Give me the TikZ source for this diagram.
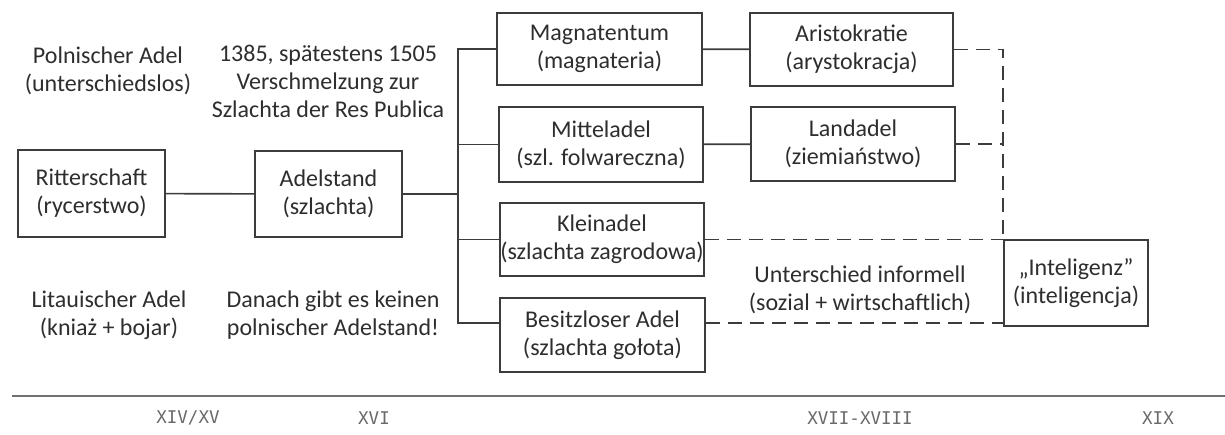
\documentclass[tikz,border=0pt]{standalone}
\usepackage{fontspec}
\setmainfont{Carlito}
\newfontfamily\tlfamily{DejaVu Sans Mono}
\definecolor{linec}{HTML}{3C3C3C}
\definecolor{textc}{HTML}{2E2E2E}
\definecolor{tlc}{HTML}{707070}
\definecolor{tltext}{HTML}{6A6A6A}
\newcommand{\fs}{\fontsize{24}{28}\selectfont}
\newcommand{\tlf}{\tlfamily\fontsize{17.5}{20}\selectfont}
\begin{document}
\begin{tikzpicture}[x=1pt,y=-1pt,
  box/.style={draw=linec, line width=1.6pt, inner sep=0pt, align=center, text=textc, font=\fs},
  lbl/.style={align=center, text=textc, font=\fs, inner sep=0pt},
  conn/.style={draw=linec, line width=1.6pt},
  dsh/.style={draw=linec, line width=1.6pt, dash pattern=on 14pt off 8pt},
  tl/.style={text=tltext, font=\tlf, inner sep=0pt}]
\fill[white] (0,0) rectangle (1225,434);
\useasboundingbox (0,0) rectangle (1225,434);
% boxes
\node[box, minimum width=147pt, minimum height=87pt] (ritter) at (91.5,193.5) {Ritterschaft\\(rycerstwo)};
\node[box, minimum width=147pt, minimum height=86pt] (adel) at (328.5,194) {Adelstand\\(szlachta)};
\node[box, minimum width=205pt, minimum height=72pt] (magn) at (599.5,49) {Magnatentum\\(magnateria)};
\node[box, minimum width=203pt, minimum height=73pt] (arist) at (851.5,49.5) {Aristokratie\\(arystokracja)};
\node[box, minimum width=204pt, minimum height=75pt] (mittel) at (601,144.5) {Mitteladel\\(szl. folwareczna)};
\node[box, minimum width=204pt, minimum height=74pt] (land) at (853,144) {Landadel\\(ziemiaństwo)};
\node[box, minimum width=204pt, minimum height=73pt] (klein) at (602,239.5) {Kleinadel\\(szlachta zagrodowa)};
\node[box, minimum width=205pt, minimum height=74pt] (besitz) at (602.5,335) {Besitzloser Adel\\(szlachta gołota)};
\node[box, minimum width=144pt, minimum height=86pt] (intel) at (1076,283) {„Inteligenz”\\(inteligencja)};
% free labels
\node[lbl] (pol) at (108,71) {Polnischer Adel\\(unterschiedslos)};
\node[lbl] (y1385) at (328,81.5) {1385, spätestens 1505\\Verschmelzung zur\\Szlachta der Res Publica};
\node[lbl] (lit) at (109,315) {Litauischer Adel\\(kniaż + bojar)};
\node[lbl] (danach) at (333,315) {Danach gibt es keinen\\polnischer Adelstand!};
\node[lbl] (unter) at (860,289.5) {Unterschied informell\\(sozial + wirtschaftlich)};
% connectors
\coordinate (vtop) at (458,49);
\coordinate (vbot) at (458,323);
\draw[conn] (ritter) -- (adel);
\draw[conn] (adel.east) -- (adel.east -| vtop);
\draw[conn] (magn.west) -- (vtop) -- (vbot) -- (besitz.west |- vbot);
\draw[conn] (mittel.west) -- (mittel.west -| vtop);
\draw[conn] (klein.west) -- (klein.west -| vtop);
\draw[conn] (magn) -- (arist);
\draw[conn] (mittel) -- (land);
% dashed
\draw[dsh] (arist.east) -- (arist.east -| intel.west) -- (intel.north west);
\draw[dsh] (land.east) -- (land.east -| intel.west);
\draw[dsh] (klein.east) -- (klein.east -| intel.west);
\draw[dsh] (besitz.east |- vbot) -- (intel.west |- vbot);
% timeline
\coordinate (tl0) at (12,396);
\coordinate (tl1) at (1225,396);
\draw[draw=tlc, line width=2.8pt] (tl0) -- (tl1);
\node[tl] (c14) at (188,418) {XIV/XV};
\node[tl] (c16) at (374,418) {XVI};
\node[tl] (c17) at (860,418) {XVII-XVIII};
\node[tl] (c19) at (1158,418) {XIX};
\end{tikzpicture}
\end{document}
